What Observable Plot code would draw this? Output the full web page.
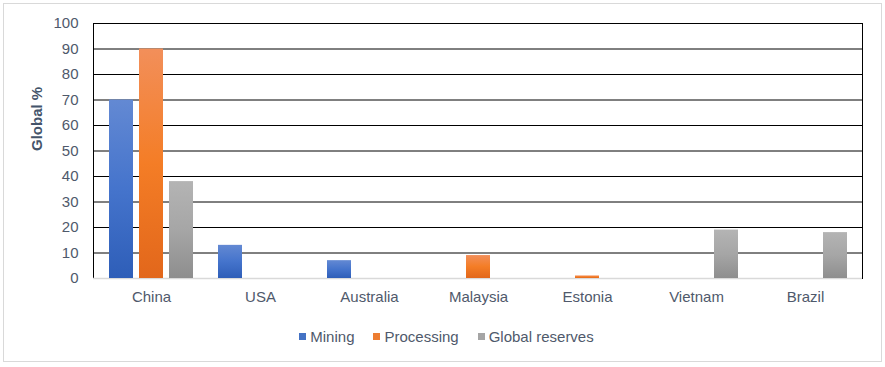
<!DOCTYPE html>
<html>
<head>
<meta charset="utf-8">
<script src="https://cdn.jsdelivr.net/npm/d3@7"></script>
<script src="https://cdn.jsdelivr.net/npm/@observablehq/plot@0.6"></script>
<style>
  html, body { margin: 0; padding: 0; background: #fff; }
  #wrap { position: relative; width: 885px; height: 367px; overflow: hidden; font-family: "Liberation Sans", Arial, sans-serif; }
  #border { position: absolute; left: 3px; top: 3px; width: 877px; height: 357px; border: 1px solid #d9d9d9; }
  #chart { position: absolute; left: 0; top: 0; }
  #legend { position: absolute; left: 0; top: 328px; width: 885px; display: flex; justify-content: center; gap: 19px; font-size: 15px; color: #4f596b; padding-left: 8px; box-sizing: border-box; }
  #legend .item { display: flex; align-items: center; }
  #legend .sw { width: 7px; height: 7px; margin-right: 4px; display: inline-block; }
</style>
</head>
<body>
<div id="wrap">
  <div id="border"></div>
  <div id="chart"></div>
  <div id="legend"></div>
</div>
<script>
const countries = ["China", "USA", "Australia", "Malaysia", "Estonia", "Vietnam", "Brazil"];
const mining = [70, 13, 7, 0, 0, 0, 0];
const processing = [90, 0, 0, 9, 1, 0, 0];
const reserves = [38, 0, 0, 0, 0, 19, 18];
const seriesNames = ["Mining", "Processing", "Global reserves"];
const seriesColors = ["#4472c4", "#ed7d31", "#a5a5a5"];
const yTicks = [0, 10, 20, 30, 40, 50, 60, 70, 80, 90, 100];

const rows = [];
[mining, processing, reserves].forEach((arr, si) => {
  arr.forEach((v, i) => rows.push({country: countries[i], series: seriesNames[si], value: v}));
});
const pick = s => rows.filter(d => d.series === s && d.value > 0);

const plot = Plot.plot({
  width: 885,
  height: 320,
  marginLeft: 93,
  marginRight: 23,
  marginTop: 23,
  marginBottom: 42,
  style: {fontFamily: "'Liberation Sans', Arial, sans-serif", fontSize: "15px", color: "#4f596b", background: "transparent"},
  x: {domain: countries, paddingInner: 0.23, paddingOuter: 0.115, label: null},
  y: {domain: [0, 100], label: null},
  marks: [
    Plot.ruleY(yTicks.filter(d => d > 0), {stroke: "#000", strokeWidth: 1}),
    Plot.frame({stroke: "#000"}),
    Plot.ruleY([0], {stroke: "#d9d9d9", strokeWidth: 1.5}),
    Plot.barY(pick("Mining"), {x: "country", y: "value", fill: "url(#gMining)", insetRight: 60}),
    Plot.barY(pick("Processing"), {x: "country", y: "value", fill: "url(#gProcessing)", insetLeft: 30, insetRight: 30}),
    Plot.barY(pick("Global reserves"), {x: "country", y: "value", fill: "url(#gReserves)", insetLeft: 60}),
    Plot.axisY({ticks: yTicks, tickSize: 0, tickPadding: 15, fontSize: 15, fill: "#4f596b", label: null}),
    Plot.axisX({tickSize: 0, tickPadding: 13, fontSize: 15, fill: "#4f596b", label: null}),
    Plot.text(["Global %"], {frameAnchor: "left", dx: -56, rotate: -90, fontWeight: "bold", fill: "#44546a", fontSize: 15})
  ]
});

const grads = [
  {id: "gMining", stops: ["#6389d3", "#4574cc", "#2e5eb8"]},
  {id: "gProcessing", stops: ["#f28f5a", "#f47d26", "#e2671b"]},
  {id: "gReserves", stops: ["#b4b4b4", "#a6a6a6", "#8e8e8e"]}
];
const defs = d3.select(plot).insert("defs", ":first-child");
grads.forEach(g => {
  const lg = defs.append("linearGradient").attr("id", g.id).attr("x1", 0).attr("y1", 0).attr("x2", 0).attr("y2", 1);
  g.stops.forEach((c, i) => lg.append("stop").attr("offset", i / (g.stops.length - 1)).attr("stop-color", c));
});
document.getElementById("chart").appendChild(plot);

const legend = document.getElementById("legend");
seriesNames.forEach((name, i) => {
  const item = document.createElement("div");
  item.className = "item";
  const sw = document.createElement("span");
  sw.className = "sw";
  sw.style.background = seriesColors[i];
  item.appendChild(sw);
  item.appendChild(document.createTextNode(name));
  legend.appendChild(item);
});
</script>
</body>
</html>
